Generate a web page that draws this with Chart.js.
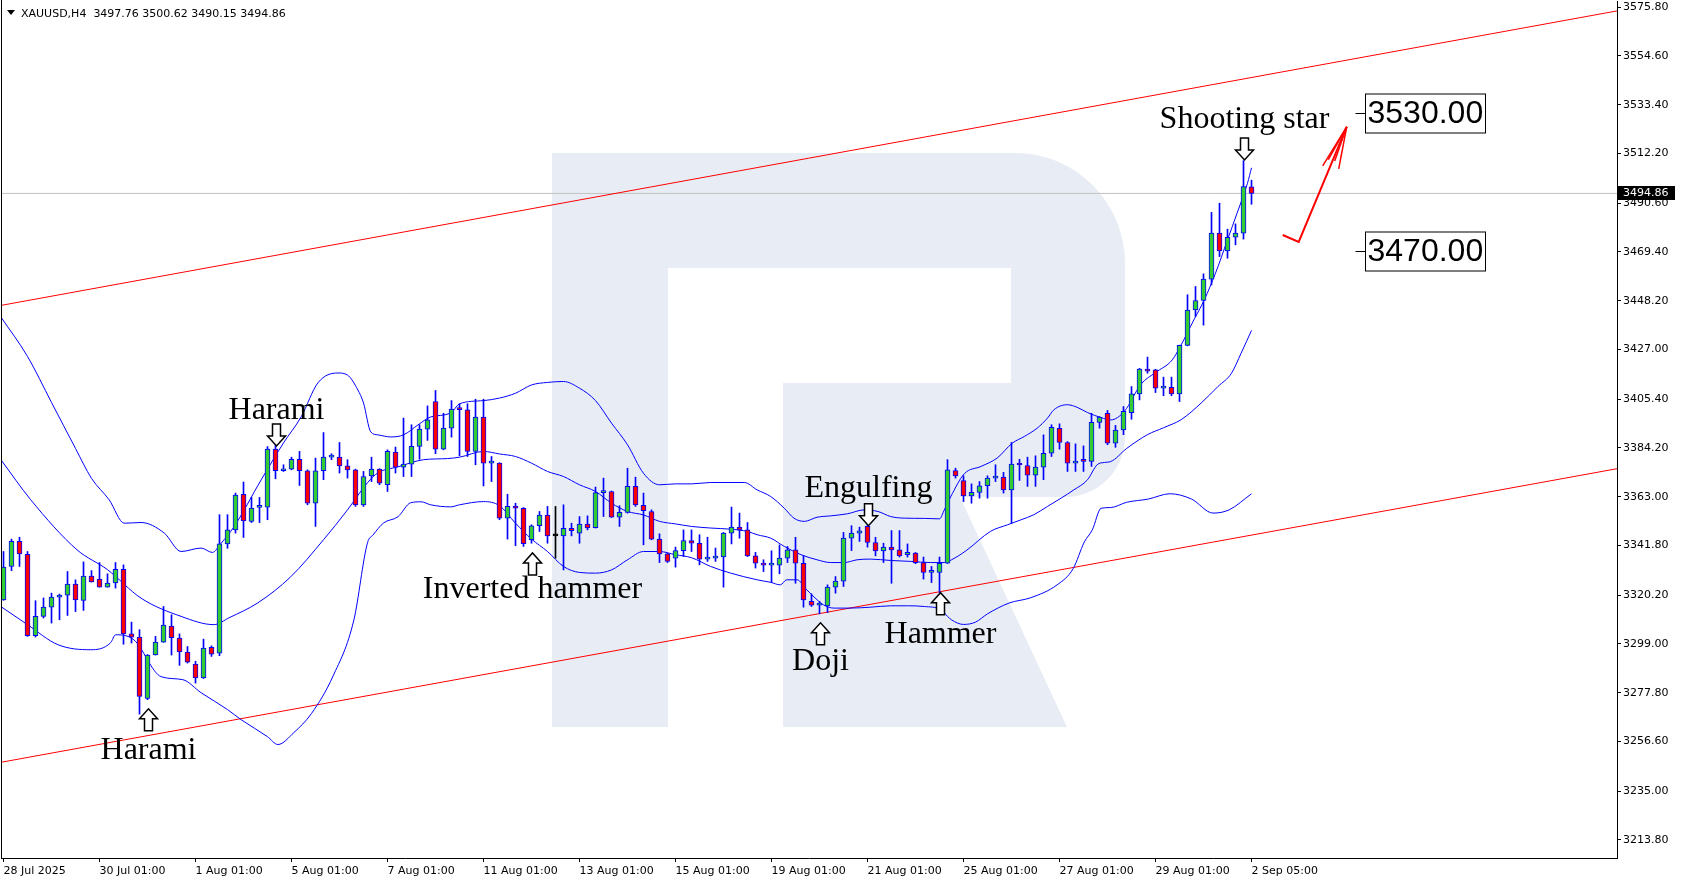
<!DOCTYPE html>
<html>
<head>
<meta charset="utf-8">
<title>XAUUSD H4</title>
<script src="https://cdn.jsdelivr.net/npm/chart.js@4.4.1/dist/chart.umd.min.js"></script>
<style>
  html, body { margin: 0; padding: 0; background: #fff; }
  #wrap { width: 1681px; height: 882px; position: relative; }
</style>
</head>
<body>
<div id="wrap"><canvas id="chart"></canvas></div>
<script>
const symbol = "XAUUSD,H4";

// H4 candles, 28 Jul 2025 01:00 .. 2 Sep 2025 05:00
const opens = [
  3318.2,3332.7,3343.6,3338.0,3302.6,3311.0,3315.0,3319.4,3320.2,3325.0,
  3317.9,3328.5,3327.2,3323.7,3325.5,3331.5,3303.4,3302.0,3275.3,3294.2,
  3299.8,3306.8,3301.6,3295.5,3290.3,3284.2,3297.5,3295.0,3342.5,3348.6,
  3364.1,3352.3,3358.4,3358.5,3383.7,3374.3,3375.0,3379.3,3374.3,3360.2,
  3374.3,3380.2,3380.2,3376.4,3374.7,3359.5,3372.1,3375.0,3368.2,3382.4,
  3375.9,3377.2,3384.9,3392.4,3404.4,3383.7,3392.8,3401.1,3400.8,3382.7,
  3397.6,3377.6,3377.6,3353.7,3359.0,3358.0,3344.3,3350.4,3355.0,3346.0,
  3346.0,3349.3,3347.2,3351.1,3349.6,3364.8,3365.3,3354.1,3356.2,3367.5,
  3359.3,3356.6,3344.6,3338.2,3336.3,3339.6,3344.0,3342.8,3335.9,3336.3,
  3336.8,3347.2,3349.8,3348.6,3337.3,3334.1,3333.3,3333.3,3336.3,3339.9,
  3334.1,3317.5,3315.9,3315.6,3323.7,3326.3,3345.0,3347.2,3350.1,3343.1,
  3339.5,3341.1,3339.9,3337.8,3338.5,3334.4,3330.1,3330.1,3334.1,3374.4,
  3370.0,3363.4,3364.9,3367.8,3371.1,3371.5,3366.0,3377.2,3376.6,3372.4,
  3375.9,3381.9,3392.7,3386.6,3377.6,3378.5,3378.4,3395.3,3399.3,3386.3,
  3392.0,3399.6,3407.7,3418.5,3418.2,3410.2,3410.6,3407.7,3428.8,3444.2,
  3448.3,3457.6,3477.6,3469.9,3475.8,3477.6,3497.76
];
const highs = [
  3339.2,3344.6,3345.4,3339.2,3317.8,3319.0,3321.1,3320.7,3330.5,3326.9,
  3334.7,3330.9,3334.4,3329.5,3334.4,3333.4,3308.5,3305.2,3294.4,3302.3,
  3315.3,3311.7,3303.4,3297.9,3291.5,3301.1,3298.2,3355.2,3355.2,3364.6,
  3369.4,3362.7,3362.7,3384.8,3385.6,3376.9,3380.2,3382.7,3374.7,3379.8,
  3390.9,3381.7,3386.6,3379.1,3375.0,3374.0,3380.2,3375.2,3383.4,3384.6,
  3397.2,3394.3,3394.3,3402.5,3409.2,3399.3,3404.8,3403.4,3403.4,3405.4,
  3405.4,3380.5,3377.8,3364.1,3360.2,3358.3,3350.8,3356.6,3358.8,3358.8,
  3359.5,3351.5,3354.4,3354.7,3367.2,3371.1,3365.5,3359.1,3375.4,3371.5,
  3364.6,3357.3,3346.9,3338.5,3341.1,3348.6,3348.6,3346.5,3345.4,3340.7,
  3347.5,3358.5,3355.9,3351.8,3338.8,3335.6,3339.5,3342.1,3341.4,3345.4,
  3337.3,3320.8,3317.5,3324.7,3328.3,3347.5,3350.4,3349.8,3352.3,3345.4,
  3342.8,3348.3,3348.3,3342.5,3338.8,3336.8,3332.7,3336.8,3379.1,3375.4,
  3372.1,3368.6,3369.6,3372.1,3376.9,3373.6,3386.6,3379.3,3380.2,3380.8,
  3389.9,3394.3,3394.7,3387.0,3386.0,3385.1,3399.3,3397.8,3400.5,3394.0,
  3402.2,3410.9,3418.8,3423.7,3418.4,3415.0,3415.0,3428.9,3450.8,3454.4,
  3459.9,3486.6,3490.6,3479.3,3481.6,3509.1,3500.62
];
const lows = [
  3318.0,3330.9,3332.7,3302.3,3302.0,3310.3,3308.1,3309.5,3311.4,3313.1,
  3313.6,3325.9,3323.7,3323.7,3323.3,3298.9,3299.4,3268.5,3274.8,3294.2,
  3299.7,3294.2,3289.7,3290.7,3282.0,3284.0,3293.6,3293.9,3340.6,3347.2,
  3345.3,3351.8,3351.8,3353.0,3370.8,3374.0,3374.7,3367.9,3359.5,3350.1,
  3370.4,3379.1,3373.3,3371.1,3358.8,3358.8,3369.6,3368.2,3365.3,3373.3,
  3371.8,3371.8,3379.3,3387.5,3381.7,3383.4,3388.9,3380.8,3380.5,3376.9,
  3367.7,3369.6,3353.0,3344.6,3341.7,3341.4,3342.8,3347.9,3342.8,3336.3,
  3331.2,3346.0,3342.8,3348.6,3349.4,3354.4,3354.0,3350.1,3355.9,3358.8,
  3342.1,3344.3,3334.4,3334.4,3332.4,3337.0,3339.2,3333.4,3334.9,3334.9,
  3323.7,3342.5,3345.0,3337.0,3332.0,3330.5,3325.7,3329.5,3334.4,3325.4,
  3315.0,3315.3,3312.1,3312.7,3321.1,3324.0,3339.6,3343.6,3341.1,3337.3,
  3334.4,3325.4,3336.8,3336.8,3333.9,3327.2,3325.7,3321.4,3334.0,3371.1,
  3360.9,3360.2,3362.4,3362.4,3369.6,3364.6,3351.5,3370.1,3367.5,3367.5,
  3370.4,3380.5,3383.7,3374.0,3374.0,3374.0,3376.2,3392.8,3385.6,3384.5,
  3390.0,3396.7,3405.1,3416.7,3408.3,3406.9,3406.9,3404.4,3428.6,3441.4,
  3437.6,3455.1,3467.4,3466.7,3472.5,3475.0,3490.15
];
const closes = [
  3332.4,3343.6,3338.2,3302.6,3311.0,3315.0,3319.4,3320.2,3325.0,3318.2,
  3328.5,3326.0,3323.7,3325.5,3331.5,3303.4,3302.0,3276.2,3294.2,3299.8,
  3307.2,3301.7,3295.6,3291.1,3284.2,3297.2,3294.6,3342.5,3348.6,3363.7,
  3352.5,3358.1,3358.6,3383.7,3374.3,3374.4,3379.3,3374.3,3360.2,3374.3,
  3380.2,3380.5,3376.4,3374.7,3359.5,3371.8,3375.0,3368.9,3382.7,3375.9,
  3377.2,3384.9,3392.4,3396.4,3383.7,3392.8,3401.1,3400.9,3382.7,3397.6,
  3377.6,3378.2,3353.7,3358.8,3358.0,3342.6,3350.4,3355.0,3346.0,3346.0,
  3349.3,3348.3,3351.1,3349.4,3364.8,3365.3,3354.1,3356.2,3367.5,3359.5,
  3356.9,3344.6,3338.2,3334.9,3339.6,3344.0,3342.8,3335.9,3336.3,3336.5,
  3347.2,3349.8,3348.6,3337.3,3334.1,3333.3,3333.4,3336.3,3339.9,3334.1,
  3318.2,3315.9,3316.0,3323.7,3326.3,3345.0,3347.2,3348.2,3343.1,3339.5,
  3341.1,3339.9,3337.3,3338.8,3334.4,3330.1,3330.2,3334.1,3374.7,3372.1,
  3363.4,3364.9,3367.8,3371.1,3371.5,3366.0,3377.2,3376.8,3372.4,3375.9,
  3381.9,3393.2,3386.6,3377.6,3378.5,3378.4,3395.3,3397.6,3386.3,3392.0,
  3400.1,3407.7,3418.5,3417.6,3410.2,3410.5,3407.7,3428.8,3444.2,3448.3,
  3457.6,3477.6,3469.9,3475.8,3477.6,3497.8,3494.86
];

// time axis labels (every 12 bars)
const tickBars = [0, 12, 24, 36, 48, 60, 72, 84, 96, 108, 120, 132, 144, 156];
const tickDates = ["28 Jul 2025", "30 Jul 01:00", "1 Aug 01:00", "5 Aug 01:00", "7 Aug 01:00",
  "11 Aug 01:00", "13 Aug 01:00", "15 Aug 01:00", "19 Aug 01:00", "21 Aug 01:00",
  "25 Aug 01:00", "27 Aug 01:00", "29 Aug 01:00", "2 Sep 05:00"];
const priceTicks = [3213.8, 3235.0, 3256.6, 3277.8, 3299.0, 3320.2, 3341.8, 3363.0, 3384.2,
  3405.4, 3427.0, 3448.2, 3469.4, 3490.6, 3512.2, 3533.4, 3554.6, 3575.8];

// Bollinger bands, sampled [bar, price]
const bbUpper = [[-0.3,3441],[3,3424],[6,3404],[9,3384],[11,3371],[13.2,3361.7],[15.1,3351.5],[17.2,3351.8],
  [20.1,3347.2],[22.2,3339.2],[24.7,3340.7],[26.1,3338.8],[27.2,3342.8],[28.8,3349.9],[32.2,3370.3],[35,3386.4],
  [37.2,3397.7],[39.3,3412.5],[41.8,3416.8],[43,3415.9],[44.3,3409.4],[45,3403.8],[45.9,3391.2],[46.8,3389.9],
  [48.4,3389],[50,3389.9],[51.8,3394.2],[53.4,3397.7],[55.9,3399.4],[57,3403.4],[60,3404.8],[62,3405.9],
  [64,3408],[66,3411.6],[68,3412.7],[70,3413.1],[72,3410.2],[74,3404.8],[76,3395],[78,3385.6],[80,3373.2],
  [82,3368.2],[84,3368.6],[86,3368.6],[88.4,3369.2],[92.6,3369.2],[94.2,3366],[95.9,3363.1],[97.6,3358],
  [98.8,3353.7],[100.1,3352.3],[101.7,3354.1],[103.4,3354.7],[105.5,3355.6],[107.6,3357.3],[109.3,3356.6],
  [110.9,3354.4],[112.6,3353.7],[115.1,3353.6],[117,3353.4],[117.6,3357.3],[118.4,3363],[120.1,3373],
  [122.2,3376.2],[124.2,3379.8],[126.1,3386.3],[127.6,3389.2],[129.2,3392.8],[130.5,3397.2],[131.3,3400.8],
  [133,3403],[134.2,3401.9],[135.5,3399.6],[137.2,3397.4],[138.4,3396.4],[140.1,3400.1],[142.2,3412],
  [144,3417],[146.1,3422.5],[147.2,3429],[148.8,3439.9],[150.1,3448.6],[151.5,3460.2],[153,3474.7],
  [154.2,3486.3],[155.5,3499.3],[156,3506]];
const bbMiddle = [[-0.3,3379],[3.4,3361.7],[9.2,3339.9],[13,3331.3],[17.2,3318.9],[22.2,3311],[26.3,3307.4],
  [28.2,3310.4],[31.8,3316.9],[35.9,3328.2],[40,3344.3],[43,3357.3],[45.5,3369.1],[46.8,3373.4],[49.3,3376],
  [52.5,3379.1],[55.5,3379.6],[57,3380.2],[60,3382.7],[62,3381.6],[64,3380.5],[66,3377.6],[68,3374],
  [70,3371.8],[72,3368.2],[74,3365.3],[76,3360.2],[78,3356.6],[80,3355.1],[82,3352.3],[84,3351.2],[86,3350.1],
  [88.4,3349.4],[90.9,3348.9],[93,3347.9],[94.2,3346.5],[95.9,3345],[97.6,3341.4],[99.7,3337.8],[101.7,3335.6],
  [103.4,3334.4],[105.1,3334.4],[106.7,3335.6],[108.4,3335.9],[110.9,3335.3],[113.4,3334.9],[115.9,3334.4],
  [117.6,3334.4],[118.5,3335.6],[120.3,3339.5],[123.4,3348],[125.5,3350.8],[127.2,3353],[128.8,3355.2],
  [130.5,3358.8],[132.2,3362.4],[133.8,3366],[135.5,3370.4],[136.7,3376.9],[137.6,3377.9],[138.4,3378.3],
  [140.4,3384],[143,3390],[145,3393],[147.2,3396.5],[149.7,3403.7],[151.8,3410.9],[153.5,3416.7],
  [154.7,3425.4],[156,3435.3]];
const bbLower = [[-0.3,3315.2],[3,3307.4],[6.8,3298.7],[10.9,3296.5],[13.4,3299.6],[14,3303],[16.3,3300.8],
  [19.7,3284.8],[22.4,3283.5],[24.7,3277.8],[28,3270.5],[29.7,3266.1],[33,3258.7],[34.3,3255.3],[36.3,3260.5],
  [38.5,3268.8],[41.2,3285.1],[43.8,3309.5],[45.5,3343],[46.2,3346.4],[47.5,3351.6],[49.3,3354.3],
  [50.9,3360.4],[52.2,3360.8],[53.4,3359.5],[55.9,3358.6],[57,3359.5],[60,3360.9],[62,3359.1],[64,3351.5],
  [66,3344.6],[68,3339.2],[70,3332.7],[72,3330.1],[74,3329.8],[76,3331.2],[78,3335.6],[80,3339.2],
  [82,3339.2],[84,3337.8],[86,3336.5],[88.4,3332.7],[90.9,3329.8],[94.2,3326.9],[95.9,3325.8],[97.1,3324.7],
  [97.9,3326.9],[99.2,3326.9],[100.4,3322.6],[101.7,3318.2],[102.5,3316],[103.8,3314.6],[105.8,3314.6],
  [108.4,3315],[110.9,3315.6],[113,3315.6],[115.1,3315.3],[117.2,3313.9],[118,3311],[118.5,3309.5],
  [120,3307.5],[121.5,3308.5],[123,3312.1],[125.7,3316.8],[128.4,3319.1],[131.7,3324.7],[133.7,3331.7],
  [135.1,3343.3],[136.1,3348.6],[137.2,3358],[138.4,3358.3],[140.4,3360.6],[143.1,3362],[145.8,3364.3],
  [148.5,3362],[151.2,3355.9],[153.2,3357.3],[156,3364.3]];

// channel lines [bar, price]
const channelTop = [[-0.44, 3446.1], [201.7, 3574.2]];
const channelBottom = [[-0.44, 3247.5], [201.7, 3375.2]];
const lastPrice = 3494.86;

// candlestick pattern marks
const patternNames = ["Harami", "Harami", "Inverted hammer", "Engulfing", "Doji", "Hammer", "Shooting star"];
const patternBars = [34, 18, 66, 108, 102, 117, 155];
const patternTip = [3385.1, 3270.8, 3338.6, 3350.4, 3308.2, 3321.3, 3509.4];
const patternText = [3396.9, 3249.1, 3319.1, 3363.0, 3287.8, 3299.5, 3523.3];
const patternDir = ["down", "up", "up", "down", "up", "up", "down"];

// forecast
const forecastPath = [[159.9, 3476.8], [161.9, 3473.8], [167.9, 3523.8]];
const forecastHead = [[164.9, 3506.8], [165.6, 3509.5], [166.4, 3509.0], [166.9, 3505.5]];
const targets = [3530.00, 3470.00];
const targetBar = 170.2;

const BULL = "#32cd32", BEAR = "#ff0000", EDGE = "#0000ff";
const bars = opens.map((o, i) => i);
const bodyColor = bars.map(i => closes[i] > opens[i] ? BULL : closes[i] < opens[i] ? BEAR : "#000000");
const edgeColor = bars.map(i => opens[i] === closes[i] ? "#000000" : EDGE);
const toXY = arr => arr.map(p => ({ x: p[0], y: p[1] }));

const lineSet = (data, color, width, order, smooth) => ({
  type: "line", data: data, borderColor: color, borderWidth: width, pointRadius: 0,
  fill: false, order: order, cubicInterpolationMode: smooth ? "monotone" : "default", tension: 0
});

// watermark, drawn behind everything
const watermark = {
  id: "watermark",
  beforeDatasetsDraw(chart) {
    const c = chart.ctx, a = chart.chartArea;
    c.save();
    c.beginPath(); c.rect(a.left, a.top, a.right - a.left, a.bottom - a.top); c.clip();
    c.fillStyle = "#e8edf5";
    c.beginPath();
    c.moveTo(552, 153); c.lineTo(1015, 153);
    c.arcTo(1125, 153, 1125, 263, 110);
    c.lineTo(1125, 437);
    c.arcTo(1125, 497, 1065, 497, 60);
    c.lineTo(960, 497);
    c.lineTo(1067, 727);
    c.lineTo(783, 727);
    c.lineTo(783, 383);
    c.lineTo(1011, 383); c.lineTo(1011, 268); c.lineTo(668, 268);
    c.lineTo(668, 727); c.lineTo(552, 727);
    c.closePath();
    c.fill();
    c.restore();
  }
};

const overlay = {
  id: "overlay",
  afterDatasetsDraw(chart) {
    const c = chart.ctx, a = chart.chartArea;
    const xs = chart.scales.x, ys = chart.scales.y;
    c.save();
    c.beginPath(); c.rect(a.left, a.top, a.right - a.left, a.bottom - a.top); c.clip();

    // pattern arrows and names
    patternNames.forEach((name, k) => {
      const cx = Math.round(xs.getPixelForValue(patternBars[k])) + 0.5;
      const tip = ys.getPixelForValue(patternTip[k]);
      const s = patternDir[k] === "down" ? 1 : -1;
      const base = tip - s * 22, neck = tip - s * 10;
      c.beginPath();
      c.moveTo(cx - 4, base); c.lineTo(cx + 4, base); c.lineTo(cx + 4, neck);
      c.lineTo(cx + 9, neck); c.lineTo(cx, tip); c.lineTo(cx - 9, neck);
      c.lineTo(cx - 4, neck); c.closePath();
      c.fillStyle = "#ffffff"; c.fill();
      c.lineWidth = 1.5; c.strokeStyle = "#000000"; c.stroke();
      c.font = '32px "Liberation Serif", "Times New Roman", serif';
      c.fillStyle = "#000000"; c.textAlign = "center"; c.textBaseline = "alphabetic";
      c.fillText(name, cx, ys.getPixelForValue(patternText[k]));
    });

    // target boxes
    const bx = Math.round(xs.getPixelForValue(targetBar)) + 0.5;
    c.font = '32px "Liberation Sans", Arial, sans-serif';
    c.textAlign = "left"; c.textBaseline = "middle";
    targets.forEach(v => {
      const y = Math.round(ys.getPixelForValue(v)) + 0.5;
      const label = v.toFixed(2);
      const w = Math.round(c.measureText(label).width) + 4;
      c.fillStyle = "#ffffff"; c.fillRect(bx, y - 19, w, 39);
      c.strokeStyle = "#000000"; c.lineWidth = 1;
      c.strokeRect(bx, y - 19.5, w, 39);
      c.beginPath(); c.moveTo(bx - 10, y); c.lineTo(bx, y); c.stroke();
      c.fillStyle = "#000000"; c.fillText(label, bx + 2, y + 1);
    });

    // symbol line
    c.fillStyle = "#000000";
    c.beginPath(); c.moveTo(7, 10); c.lineTo(15, 10); c.lineTo(11, 15); c.closePath(); c.fill();
    c.font = '11px "DejaVu Sans", sans-serif';
    c.textAlign = "left"; c.textBaseline = "alphabetic";
    const n = closes.length - 1;
    c.fillText(symbol + "  " + [opens[n], highs[n], lows[n], closes[n]].map(v => v.toFixed(2)).join(" "), 21, 17);
    c.restore();

    // left frame line
    c.save();
    c.strokeStyle = "#000000"; c.lineWidth = 1;
    c.beginPath(); c.moveTo(a.left + 0.5, 0); c.lineTo(a.left + 0.5, a.bottom); c.stroke();
    c.restore();
  },
  afterDraw(chart) {
    const c = chart.ctx, a = chart.chartArea, ys = chart.scales.y;
    const y = Math.round(ys.getPixelForValue(lastPrice));
    c.save();
    c.fillStyle = "#000000";
    c.fillRect(a.right + 1, y - 7, 57, 14);
    c.fillStyle = "#ffffff";
    c.font = '11px "DejaVu Sans", sans-serif';
    c.textAlign = "left"; c.textBaseline = "middle";
    c.fillText(lastPrice.toFixed(2), a.right + 6, y);
    c.restore();
  }
};

new Chart(document.getElementById("chart"), {
  type: "bar",
  data: {
    datasets: [
      {
        label: "wicks", order: 1,
        data: bars.map(i => ({ x: i, y: [lows[i], highs[i]] })),
        backgroundColor: edgeColor, borderWidth: 0, barThickness: 1
      },
      {
        label: "bodies", order: 0,
        data: bars.map(i => ({ x: i, y: [opens[i], closes[i]] })),
        backgroundColor: bodyColor, borderColor: edgeColor, borderWidth: 1,
        borderSkipped: false, barThickness: 5, minBarLength: 2
      },
      lineSet(toXY(bbUpper), EDGE, 1, 3, true),
      lineSet(toXY(bbMiddle), EDGE, 1, 3, true),
      lineSet(toXY(bbLower), EDGE, 1, 3, true),
      lineSet(toXY(channelTop), "#ff0000", 1, 4, false),
      lineSet(toXY(channelBottom), "#ff0000", 1, 4, false),
      lineSet([{ x: -1, y: lastPrice }, { x: 210, y: lastPrice }], "#c0c0c0", 1, 6, false),
      lineSet(toXY(forecastPath), "#ff0000", 2, 2, false),
      ...forecastHead.map(p => lineSet(toXY([forecastPath[2], p]), "#ff0000", 1.5, 2, false))
    ]
  },
  options: {
    responsive: true,
    maintainAspectRatio: false,
    animation: false,
    layout: { padding: { left: 1, top: 1, right: 0, bottom: 0 } },
    datasets: { bar: { grouped: false } },
    plugins: { legend: { display: false }, tooltip: { enabled: false }, title: { display: false } },
    scales: {
      x: {
        type: "linear", position: "bottom", min: -0.3125, max: 201.6875, offset: false,
        afterBuildTicks: s => { s.ticks = tickBars.map(v => ({ value: v })); },
        afterFit: s => { s.height = 24; s.paddingLeft = 0; s.paddingRight = 0; },
        ticks: {
          callback: v => tickDates[tickBars.indexOf(v)], align: "start", autoSkip: false,
          maxRotation: 0, color: "#000", padding: 3, font: { family: "DejaVu Sans", size: 11 }
        },
        grid: { drawOnChartArea: false, tickLength: 4, color: "#000", offset: false },
        border: { display: true, color: "#000", width: 1 }
      },
      y: {
        type: "linear", position: "right", min: 3205.97, max: 3578.5,
        afterBuildTicks: s => { s.ticks = priceTicks.map(v => ({ value: v })); },
        afterFit: s => { s.width = 64; s.paddingTop = 0; s.paddingBottom = 0; },
        ticks: {
          callback: v => v.toFixed(2), color: "#000", padding: 2,
          font: { family: "DejaVu Sans", size: 11 }
        },
        grid: { drawOnChartArea: false, tickLength: 4, color: "#000" },
        border: { display: true, color: "#000", width: 1 }
      }
    }
  },
  plugins: [watermark, overlay]
});
</script>
</body>
</html>
